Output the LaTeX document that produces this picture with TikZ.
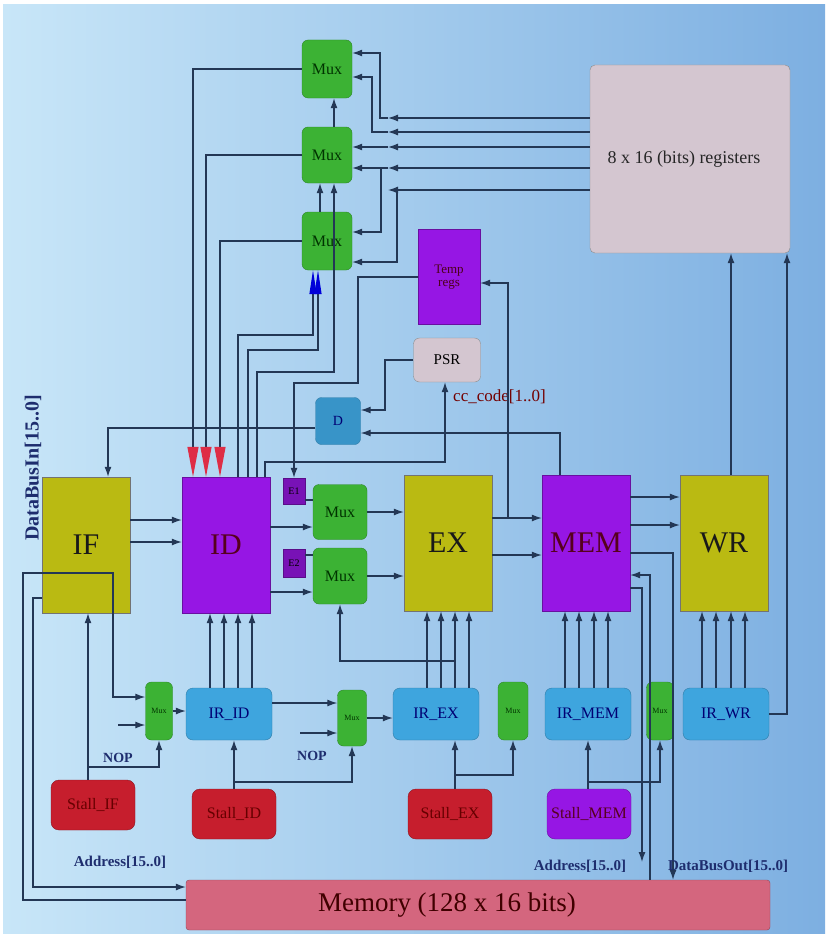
\documentclass[tikz,border=0pt]{standalone}
\usepackage{fontspec}
\setmainfont{Liberation Serif}
\usepackage{xcolor}
\usetikzlibrary{arrows.meta, positioning, calc}

\definecolor{bgL}{RGB}{200,230,248}
\definecolor{bgR}{RGB}{125,175,225}
\definecolor{wirec}{RGB}{35,55,85}
\definecolor{muxgreen}{RGB}{60,178,52}
\definecolor{olivebox}{RGB}{186,186,18}
\definecolor{purplebox}{RGB}{150,22,228}
\definecolor{irblue}{RGB}{62,165,222}
\definecolor{stallred}{RGB}{198,30,45}
\definecolor{memred}{RGB}{212,102,126}
\definecolor{reggrey}{RGB}{212,198,208}
\definecolor{redtip}{RGB}{222,45,70}
\definecolor{labelc}{RGB}{30,45,110}
\newcommand\fsz[1]{\fontsize{#1}{#1}\selectfont}

\begin{document}
\begin{tikzpicture}[x=1pt, y=-1pt,
    % Styles
    stage/.style={rectangle, draw=black!55, fill=olivebox, minimum width=88pt, minimum height=136pt, inner sep=0pt, font=\fsz{30}, text=black!90},
    mux/.style={rectangle, rounded corners=6pt, draw=muxgreen!75!black, fill=muxgreen, inner sep=0pt, font=\fsz{16}, text=black!80!green},
    smallmux/.style={mux, minimum width=27pt, minimum height=58pt, font=\fsz{8}},
    irbox/.style={rectangle, rounded corners=7pt, draw=irblue!75!black, fill=irblue, minimum width=86pt, minimum height=52pt, inner sep=0pt, font=\fsz{16}, text=blue!45!black},
    stallbox/.style={rectangle, rounded corners=8pt, draw=stallred!70!black, fill=stallred, minimum width=84pt, minimum height=50pt, inner sep=0pt, font=\fsz{16}, text=red!40!black},
    wire/.style={line width=1.2pt, draw=wirec},
    arrow/.style={wire, -{Latex[length=10pt,width=7pt]}},
    redarrow/.style={wire, -{Triangle[width=11pt,length=30pt,color=redtip]}},
    bluearrow/.style={wire, -{Triangle[width=7pt,length=24pt,color=blue!85!black]}},
    lbl/.style={font=\fsz{15}, text=labelc, inner sep=1pt}
]
    \useasboundingbox (0,0) rectangle (825,934);
    \fill[white] (0,0) rectangle (825,934);
    \shade[left color=bgL, right color=bgR] (3,5) rectangle (825,934);

    % --- Register file and operand muxes ---
    \node[rectangle, rounded corners=5pt, draw=black!45, fill=reggrey, minimum width=200pt, minimum height=188pt, font=\fsz{18}, text=black!85] (regs) at (690,159) {\hspace*{-12pt}8 x 16 (bits) registers};
    \node[mux, minimum width=50pt, minimum height=58pt] (muxa) at (327,69) {Mux};
    \node[mux, minimum width=50pt, minimum height=56pt] (muxb) at (327,155) {Mux};
    \node[mux, minimum width=50pt, minimum height=58pt] (muxc) at (327,241) {Mux};

    \node[rectangle, draw=purplebox!70!black, fill=purplebox, minimum width=62pt, minimum height=95pt, inner sep=0pt, font=\fsz{13}, text=black!60!purple, align=center] (tmp) at (449,277) {Temp\\regs};
    \node[rectangle, rounded corners=6pt, draw=black!45, fill=reggrey, minimum width=67pt, minimum height=44pt, font=\fsz{15}] (psr) at (447,360) {PSR};
    \node[rectangle, rounded corners=6pt, draw=irblue!75!black, fill=irblue!90!black, minimum width=45pt, minimum height=47pt, font=\fsz{14}, text=blue!45!black] (dreg) at (338,421) {D};

    % --- Pipeline stages ---
    \node[stage] (IF) at (86,545) {IF};
    \node[stage, fill=purplebox, draw=purplebox!70!black, text=black!55!purple] (ID) at (226,545) {ID};
    \node[stage] (EX) at (448,543) {EX};
    \node[stage, fill=purplebox, draw=purplebox!70!black, text=black!55!purple] (MEM) at (586,543) {MEM};
    \node[stage] (WR) at (724,543) {WR};

    \node[rectangle, draw=purplebox!60!black, fill=purplebox!80!black, minimum width=22pt, minimum height=26pt, inner sep=0pt, font=\fsz{10}] (eone) at (294,491) {E1};
    \node[rectangle, draw=purplebox!60!black, fill=purplebox!80!black, minimum width=22pt, minimum height=28pt, inner sep=0pt, font=\fsz{10}] (etwo) at (294,563) {E2};
    \node[mux, minimum width=54pt, minimum height=55pt] (muxd) at (340,512) {Mux};
    \node[mux, minimum width=54pt, minimum height=56pt] (muxe) at (340,576) {Mux};

    % --- Instruction registers ---
    \node[smallmux] (muxf) at (159,711) {Mux};
    \node[irbox] (irid) at (229,714) {IR\_ID};
    \node[smallmux, minimum width=29pt, minimum height=56pt] (muxg) at (352,718) {Mux};
    \node[irbox] (irex) at (436,714) {IR\_EX};
    \node[smallmux, minimum width=30pt] (muxh) at (513,711) {Mux};
    \node[irbox] (irmem) at (588,714) {IR\_MEM};
    \node[smallmux] (muxi) at (660,711) {Mux};
    \node[irbox] (irwr) at (726,714) {IR\_WR};

    % --- Stall units ---
    \node[stallbox] (stif) at (93,805) {Stall\_IF};
    \node[stallbox] (stid) at (234,814) {Stall\_ID};
    \node[stallbox] (stex) at (450,814) {Stall\_EX};
    \node[stallbox, fill=purplebox, draw=purplebox!70!black, text=black!55!purple] (stmem) at (589,814) {Stall\_MEM};

    % --- Memory ---
    \node[rectangle, rounded corners=3pt, draw=memred!70!black, fill=memred, minimum width=584pt, minimum height=50pt, font=\fsz{27}, text=black!75!red] (memory) at (478,905) {\hspace*{-62pt}Memory (128 x 16 bits)};

    % register outputs
    \foreach \y/\n in {118/1,132/2,147/3,168/4,190/5} {
        \coordinate (r\n) at (388,\y);
        \draw[arrow] (regs.west |- r\n) -- (r\n);
    }
    \draw[arrow] (r1) -- (380,118) -- (380,53) -- (muxa.east |- 0,53);
    \draw[arrow] (r2) -- (372,132) -- (372,77) -- (muxa.east |- 0,77);
    \draw[arrow] (r3) -- (muxb.east |- r3);
    \draw[arrow] (r4) -- (muxb.east |- r4);
    \draw[arrow] (381,168) -- (381,232) -- (muxc.east |- 0,232);
    \draw[arrow] (397,190) -- (397,262) -- (muxc.east |- 0,262);

    % mux chain and forwarding from ID
    \draw[arrow] (muxc.north -| 320,0) -- (muxb.south -| 320,0);
    \draw[arrow] (muxb.north -| 334,0) -- (muxa.south -| 334,0);
    \draw[bluearrow] (ID.north -| 238,0) |- (313,335) -- (muxc.south -| 313,0);
    \draw[bluearrow] (ID.north -| 248,0) |- (318,350) -- (muxc.south -| 318,0);
    \draw[arrow] (ID.north -| 257,0) |- (334,372) -- (muxb.south -| 334,0);
    \draw[redarrow] (muxa.west) -| (ID.north -| 193,0);
    \draw[redarrow] (muxb.west) -| (ID.north -| 206,0);
    \draw[redarrow] (muxc.west) -| (ID.north -| 220,0);

    % PSR, D and temp regs
    \draw[arrow] (ID.north -| 265,0) |- (445,462) -- (psr.south -| 445,0);
    \node[lbl, anchor=west, text=red!45!black, font=\fsz{17}] (cc) at (452,397) {cc\_code[1..0]};
    \draw[arrow] (psr.west) -| (385,410) -- (dreg.east |- 0,410);
    \draw[arrow] (MEM.north -| 560,0) |- (dreg.east |- 0,433);
    \draw[arrow] (dreg.west |- 0,428) -| (IF.north -| 108,0);
    \draw[arrow] (tmp.west |- 0,277) -| (358,383) -| (eone.north);
    \coordinate (exout) at (508,518);
    \draw[arrow] (exout) |- (tmp.east |- 0,283);

    % stage to stage
    \draw[arrow] (IF.east |- 0,520) -- (ID.west |- 0,520);
    \draw[arrow] (IF.east |- 0,542) -- (ID.west |- 0,542);
    \draw[arrow] (ID.east |- 0,527) -- (muxd.west |- 0,527);
    \draw[arrow] (ID.east |- 0,592) -- (muxe.west |- 0,592);
    \draw[wire] (eone.east |- 0,500) -- (muxd.west |- 0,500);
    \draw[wire] (etwo.east |- 0,555) -- (muxe.west |- 0,555);
    \draw[arrow] (muxd.east) -- (EX.west |- muxd.east);
    \draw[arrow] (muxe.east) -- (EX.west |- muxe.east);
    \draw[arrow] (EX.east |- exout) -- (MEM.west |- exout);
    \draw[arrow] (EX.east |- 0,555) -- (MEM.west |- 0,555);
    \draw[arrow] (MEM.east |- 0,497) -- (WR.west |- 0,497);
    \draw[arrow] (MEM.east |- 0,525) -- (WR.west |- 0,525);
    \draw[arrow] (WR.north -| 731,0) -- (regs.south -| 731,0);
    \draw[arrow] (irwr.east) -| (regs.south -| 787,0);

    % memory interface
    \draw[arrow] (MEM.east |- 0,553) -| (memory.north -| 673,0);
    \draw[arrow] (memory.north -| 650,0) |- (MEM.east |- 0,575);
    \draw[arrow] (MEM.east |- 0,588) -| (642,862);
    \draw[arrow] (IF.west |- 0,598) -| (33,887) -- (memory.west |- 0,887);
    \draw[arrow] (memory.west |- 0,900) -| (23,573) -| (113,697) -- (muxf.west |- 0,697);
    \node[lbl, rotate=90, font=\bfseries\fsz{20}] (dbin) at (33,468) {DataBusIn[15..0]};
    \node[lbl, font=\bfseries\fsz{15}] (addra) at (120,862) {Address[15..0]};
    \node[lbl, font=\bfseries\fsz{15}] (addrb) at (580,866) {Address[15..0]};
    \node[lbl, font=\bfseries\fsz{15}] (dbout) at (728,866) {DataBusOut[15..0]};

    % instruction register paths
    \coordinate (nopa) at (118,725);
    \draw[arrow] (nopa) -- (muxf.west |- nopa);
    \node[lbl, font=\bfseries\fsz{14}] (nopfl) at (118,758) {NOP};
    \draw[arrow] (muxf.east) -- (irid.west |- muxf.east);
    \foreach \x in {210,224,238,252} \draw[arrow] (irid.north -| \x,0) -- (ID.south -| \x,0);
    \draw[arrow] (stif.north -| 88,0) -- (IF.south -| 88,0);
    \draw[arrow] (88,767) -| (muxf.south);

    \draw[arrow] (irid.east |- 0,703) -- (muxg.west |- 0,703);
    \coordinate (nopb) at (300,733);
    \draw[arrow] (nopb) -- (muxg.west |- nopb);
    \node[lbl, font=\bfseries\fsz{14}] (nopsl) at (312,756) {NOP};
    \draw[arrow] (stid.north) -- (irid.south -| stid.north);
    \draw[arrow] (234,782) -| (muxg.south);
    \draw[arrow] (muxg.east) -- (irex.west |- muxg.east);

    \foreach \x in {427,441,455,469} \draw[arrow] (irex.north -| \x,0) -- (EX.south -| \x,0);
    \draw[arrow] (455,661) -| (muxe.south);
    \draw[arrow] (stex.north -| 455,0) -- (irex.south -| 455,0);
    \draw[arrow] (455,775) -| (muxh.south);

    \foreach \x in {565,579,594,608} \draw[arrow] (irmem.north -| \x,0) -- (MEM.south -| \x,0);
    \draw[arrow] (stmem.north -| 588,0) -- (irmem.south -| 588,0);
    \draw[arrow] (588,782) -| (muxi.south);

    \foreach \x in {702,716,731,745} \draw[arrow] (irwr.north -| \x,0) -- (WR.south -| \x,0);

\end{tikzpicture}
\end{document}
